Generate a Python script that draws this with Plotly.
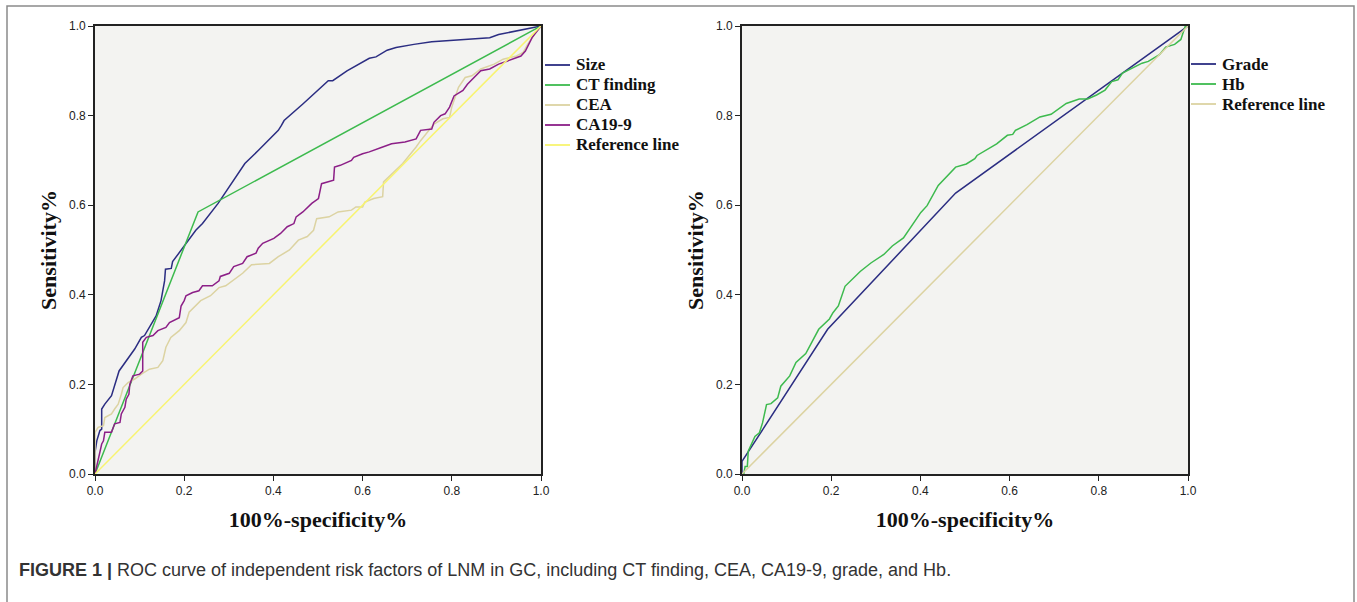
import plotly.graph_objects as go

# ---------------- data (left panel) ----------------
size_x = [0, 0.0, 0.004, 0.011, 0.015, 0.015, 0.022, 0.037, 0.054, 0.07, 0.089, 0.104, 0.111, 0.137,
          0.148, 0.156, 0.158, 0.171, 0.174, 0.226, 0.241, 0.276, 0.306, 0.336, 0.366, 0.391, 0.411,
          0.418, 0.424, 0.466, 0.505, 0.523, 0.533, 0.565, 0.615, 0.63, 0.655, 0.675, 0.715, 0.755,
          0.885, 0.905, 1.0]
size_y = [0, 0.048, 0.074, 0.097, 0.1, 0.145, 0.156, 0.175, 0.23, 0.253, 0.279, 0.305, 0.309, 0.353,
          0.387, 0.431, 0.457, 0.459, 0.474, 0.544, 0.559, 0.604, 0.648, 0.693, 0.722, 0.748, 0.767,
          0.778, 0.789, 0.826, 0.863, 0.878, 0.878, 0.9, 0.928, 0.931, 0.946, 0.952, 0.959, 0.965,
          0.974, 0.981, 1.0]

ct_x = [0, 0.231, 1.0]
ct_y = [0, 0.585, 1.0]

cea_x = [0, 0.0, 0.007, 0.019, 0.022, 0.037, 0.044, 0.052, 0.059, 0.063, 0.074, 0.089, 0.104, 0.122,
         0.141, 0.152, 0.159, 0.17, 0.189, 0.204, 0.211, 0.222, 0.237, 0.259, 0.267, 0.278, 0.293,
         0.307, 0.331, 0.351, 0.391, 0.411, 0.436, 0.456, 0.476, 0.49, 0.497, 0.525, 0.545, 0.575,
         0.585, 0.6, 0.605, 0.625, 0.645, 0.647, 0.665, 0.69, 0.72, 0.73, 0.76, 0.78, 0.795, 0.8,
         0.815, 0.83, 0.845, 0.865, 0.895, 0.915, 0.945, 0.96, 0.97, 0.985, 1.0]
cea_y = [0, 0.093, 0.104, 0.108, 0.126, 0.134, 0.145, 0.156, 0.178, 0.193, 0.204, 0.212, 0.223, 0.234,
         0.238, 0.253, 0.283, 0.305, 0.32, 0.338, 0.361, 0.372, 0.387, 0.398, 0.405, 0.416, 0.42,
         0.431, 0.448, 0.467, 0.47, 0.485, 0.5, 0.522, 0.53, 0.544, 0.57, 0.574, 0.585, 0.589,
         0.596, 0.596, 0.607, 0.615, 0.619, 0.652, 0.67, 0.693, 0.73, 0.744, 0.781, 0.793, 0.796, 0.819,
         0.863, 0.885, 0.889, 0.904, 0.915, 0.926, 0.933, 0.941, 0.959, 0.981, 1.0]

ca_x = [0, 0.004, 0.007, 0.011, 0.015, 0.019, 0.022, 0.037, 0.041, 0.044, 0.056, 0.059, 0.067, 0.07,
        0.076, 0.078, 0.085, 0.1, 0.107, 0.107, 0.115, 0.13, 0.141, 0.159, 0.167, 0.181, 0.189, 0.193,
        0.2, 0.204, 0.219, 0.233, 0.241, 0.263, 0.278, 0.281, 0.301, 0.311, 0.331, 0.341, 0.361,
        0.366, 0.376, 0.401, 0.416, 0.431, 0.446, 0.451, 0.466, 0.486, 0.501, 0.508, 0.52, 0.535,
        0.537, 0.55, 0.575, 0.58, 0.6, 0.615, 0.645, 0.665, 0.695, 0.72, 0.73, 0.755, 0.76, 0.775,
        0.785, 0.795, 0.805, 0.825, 0.835, 0.85, 0.865, 0.885, 0.905, 0.925, 0.955, 0.965, 0.98, 1.0]
ca_y = [0, 0.019, 0.026, 0.052, 0.067, 0.074, 0.093, 0.093, 0.104, 0.112, 0.115, 0.134, 0.149, 0.167,
        0.178, 0.2, 0.219, 0.223, 0.23, 0.294, 0.305, 0.309, 0.32, 0.327, 0.338, 0.346, 0.349, 0.375,
        0.387, 0.398, 0.405, 0.409, 0.42, 0.42, 0.431, 0.441, 0.448, 0.463, 0.47, 0.485, 0.493,
        0.504, 0.515, 0.526, 0.537, 0.552, 0.559, 0.574, 0.585, 0.604, 0.615, 0.648, 0.652, 0.656,
        0.685, 0.689, 0.7, 0.707, 0.715, 0.719, 0.73, 0.737, 0.741, 0.748, 0.767, 0.77, 0.785, 0.8,
        0.804, 0.819, 0.844, 0.856, 0.87, 0.885, 0.9, 0.904, 0.915, 0.922, 0.933, 0.944, 0.974, 1.0]

ref_x = [0, 1]
ref_y = [0, 1]

# ---------------- data (right panel) ----------------
grade_x = [0, 0.0, 0.192, 0.479, 1.0]
grade_y = [0, 0.028, 0.323, 0.627, 1.0]

hb_x = [0, 0.004, 0.007, 0.012, 0.014, 0.021, 0.029, 0.039, 0.046, 0.055, 0.065, 0.08, 0.087, 0.107,
        0.121, 0.143, 0.172, 0.196, 0.204, 0.216, 0.231, 0.265, 0.289, 0.318, 0.337, 0.362, 0.381,
        0.401, 0.415, 0.44, 0.479, 0.503, 0.522, 0.527, 0.571, 0.595, 0.607, 0.613, 0.639, 0.668,
        0.693, 0.727, 0.756, 0.775, 0.795, 0.814, 0.829, 0.843, 0.853, 0.868, 0.897, 0.911, 0.936,
        0.95, 0.97, 0.984, 0.989, 0.994, 1.0]
hb_y = [0, 0, 0.017, 0.017, 0.051, 0.066, 0.084, 0.092, 0.114, 0.155, 0.157, 0.17, 0.196, 0.219,
        0.249, 0.269, 0.323, 0.346, 0.36, 0.375, 0.419, 0.452, 0.471, 0.49, 0.509, 0.527, 0.554,
        0.584, 0.599, 0.644, 0.685, 0.692, 0.704, 0.711, 0.737, 0.756, 0.758, 0.767, 0.78, 0.797,
        0.803, 0.827, 0.837, 0.837, 0.846, 0.857, 0.876, 0.88, 0.895, 0.902, 0.917, 0.921, 0.936,
        0.953, 0.959, 0.97, 0.985, 1.0, 1.0]

tick_vals = [0, 0.2, 0.4, 0.6, 0.8, 1.0]
tick_text = ["0.0", "0.2", "0.4", "0.6", "0.8", "1.0"]

left_names = ["Size", "CT finding", "CEA", "CA19-9", "Reference line"]
right_names = ["Grade", "Hb", "Reference line"]

NAVY = "#2b2d82"
GREEN = "#3dba4e"
TAN = "#dcd3a2"
PURPLE = "#8c1f87"
YELLOW = "#f8f470"

W, H = 1357, 602

fig = go.Figure()
lw = 1.5
left_series = [(size_x, size_y, NAVY), (ct_x, ct_y, GREEN), (cea_x, cea_y, TAN),
               (ca_x, ca_y, PURPLE), (ref_x, ref_y, YELLOW)]
right_series = [(grade_x, grade_y, NAVY), (hb_x, hb_y, GREEN), (ref_x, ref_y, TAN)]

for name, (xs, ys, col) in zip(left_names, left_series):
    fig.add_trace(go.Scatter(x=xs, y=ys, mode="lines", name=name, line=dict(color=col, width=lw),
                             xaxis="x", yaxis="y", showlegend=False))
for name, (xs, ys, col) in zip(right_names, right_series):
    fig.add_trace(go.Scatter(x=xs, y=ys, mode="lines", name=name, line=dict(color=col, width=lw),
                             xaxis="x2", yaxis="y2", showlegend=False))

ydom = [1 - 474 / H, 1 - 26 / H]
tickfont = dict(family="Liberation Sans Narrow, Arial Narrow, Liberation Sans, Arial", size=12, color="#222")
titlefont = dict(family="Liberation Serif, Times New Roman, serif", size=22, color="#111", weight="bold")

def xax(dom, anchor):
    return dict(domain=dom, anchor=anchor, range=[0, 1], tickvals=tick_vals, ticktext=tick_text,
                showgrid=False, zeroline=False, showline=True, linecolor="#222", linewidth=1.6, mirror=True,
                ticks="outside", ticklen=5, tickwidth=1.2, tickcolor="#222", tickfont=tickfont,
                automargin=False,
                title=dict(text="100%-specificity%", font=titlefont, standoff=14))

def yax(anchor):
    return dict(domain=ydom, anchor=anchor, range=[0, 1], tickvals=tick_vals, ticktext=tick_text,
                showgrid=False, zeroline=False, showline=True, linecolor="#222", linewidth=1.6, mirror=True,
                ticks="outside", ticklen=5, tickwidth=1.2, tickcolor="#222", tickfont=tickfont,
                automargin=False,
                title=dict(text="Sensitivity%", font=titlefont, standoff=6))

legfont = dict(family="Liberation Serif, Times New Roman, serif", size=17, color="#111", weight="bold")

shapes = [dict(type="rect", xref="paper", yref="paper", x0=7 / W, x1=1354 / W, y0=-0.02, y1=1 - 6 / H,
               line=dict(color="#8a8a8a", width=1.5), fillcolor="rgba(0,0,0,0)", layer="below")]
annotations = [dict(xref="paper", yref="paper", x=17 / W, y=1 - 570 / H, xanchor="left", yanchor="middle",
                    showarrow=False, align="left",
                    text="<b>FIGURE 1 |</b> ROC curve of independent risk factors of LNM in GC, including CT finding, CEA, CA19-9, grade, and Hb.",
                    font=dict(family="Liberation Sans, Arial, sans-serif", size=18, color="#333"))]

# manual legends (line sample + label), positioned in pixels
def add_legend(names, colors, x0px, y0px, step):
    for i, (nm, col) in enumerate(zip(names, colors)):
        ypx = y0px + i * step
        shapes.append(dict(type="line", xref="paper", yref="paper", x0=x0px / W, x1=(x0px + 25) / W,
                           y0=1 - ypx / H, y1=1 - ypx / H, line=dict(color=col, width=1.8)))
        annotations.append(dict(xref="paper", yref="paper", x=(x0px + 29) / W, y=1 - ypx / H,
                                xanchor="left", yanchor="middle", showarrow=False, text=nm, font=legfont))

add_legend(left_names, [s[2] for s in left_series], 545, 65, 20)
add_legend(right_names, [s[2] for s in right_series], 1191, 64, 20)

fig.update_layout(
    width=W, height=H,
    margin=dict(l=0, r=0, t=0, b=0, autoexpand=False),
    paper_bgcolor="white",
    plot_bgcolor="#f3f3f1",
    showlegend=False,
    xaxis=xax([95 / W, 541 / W], "y"),
    yaxis=yax("x"),
    xaxis2=xax([742 / W, 1188 / W], "y2"),
    yaxis2=yax("x2"),
    shapes=shapes,
    annotations=annotations,
)

fig.write_html("out.html")
